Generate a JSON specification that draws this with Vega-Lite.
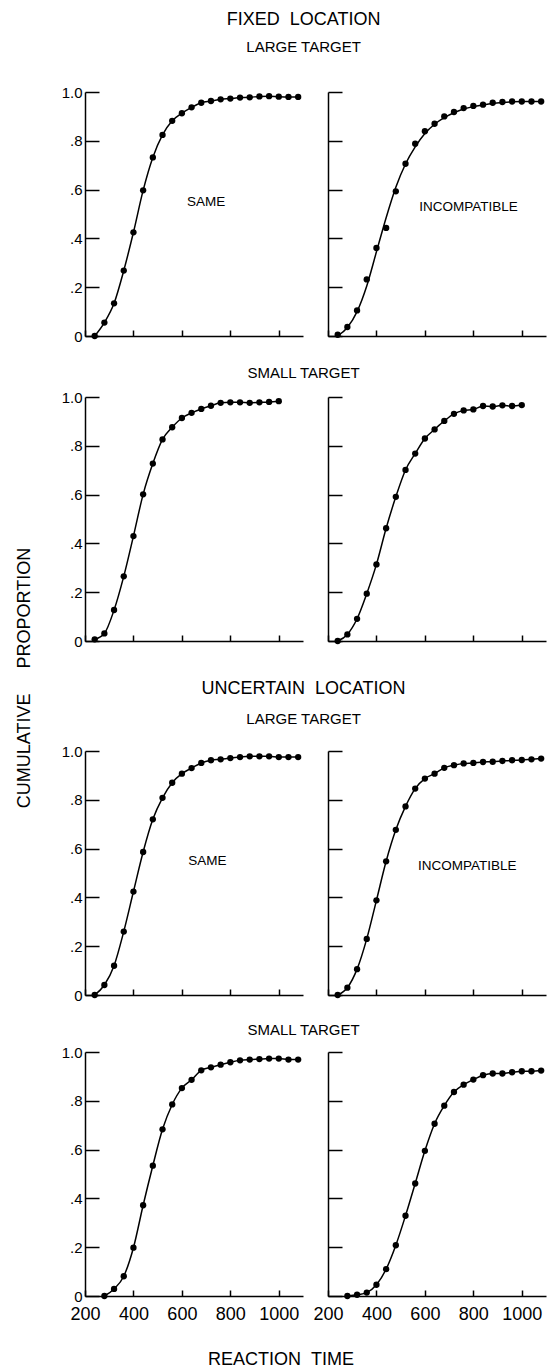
{
  "$schema": "https://vega.github.io/schema/vega-lite/v6.json",
  "padding": {"left": 16, "top": 11, "right": 5, "bottom": 0},
  "background": "white",
  "datasets": {
    "cdf": [
      {"panel":"FLS","rt":240,"p":0.0,"f":0.0},{"panel":"FLS","rt":280,"p":0.055,"f":0.055},{"panel":"FLS","rt":320,"p":0.134,"f":0.134},{"panel":"FLS","rt":360,"p":0.268,"f":0.268},{"panel":"FLS","rt":400,"p":0.425,"f":0.425},{"panel":"FLS","rt":440,"p":0.597,"f":0.597},{"panel":"FLS","rt":480,"p":0.732,"f":0.732},{"panel":"FLS","rt":520,"p":0.824,"f":0.824},{"panel":"FLS","rt":560,"p":0.882,"f":0.882},{"panel":"FLS","rt":600,"p":0.913,"f":0.913},{"panel":"FLS","rt":640,"p":0.937,"f":0.937},{"panel":"FLS","rt":680,"p":0.956,"f":0.956},{"panel":"FLS","rt":720,"p":0.963,"f":0.963},{"panel":"FLS","rt":760,"p":0.97,"f":0.97},{"panel":"FLS","rt":800,"p":0.973,"f":0.973},{"panel":"FLS","rt":840,"p":0.977,"f":0.977},{"panel":"FLS","rt":880,"p":0.978,"f":0.978},{"panel":"FLS","rt":920,"p":0.982,"f":0.982},{"panel":"FLS","rt":960,"p":0.983,"f":0.983},{"panel":"FLS","rt":1000,"p":0.981,"f":0.981},{"panel":"FLS","rt":1040,"p":0.98,"f":0.98},{"panel":"FLS","rt":1080,"p":0.98,"f":0.98},

      {"panel":"FLI","rt":240,"p":0.005,"f":0.0},{"panel":"FLI","rt":280,"p":0.037,"f":0.035},{"panel":"FLI","rt":320,"p":0.105,"f":0.1},{"panel":"FLI","rt":360,"p":0.232,"f":0.205},{"panel":"FLI","rt":400,"p":0.361,"f":0.345},{"panel":"FLI","rt":440,"p":0.443,"f":0.485},{"panel":"FLI","rt":480,"p":0.593,"f":0.61},{"panel":"FLI","rt":520,"p":0.706,"f":0.705},{"panel":"FLI","rt":560,"p":0.788,"f":0.775},{"panel":"FLI","rt":600,"p":0.839,"f":0.83},{"panel":"FLI","rt":640,"p":0.87,"f":0.868},{"panel":"FLI","rt":680,"p":0.9,"f":0.895},{"panel":"FLI","rt":720,"p":0.918,"f":0.915},{"panel":"FLI","rt":760,"p":0.934,"f":0.93},{"panel":"FLI","rt":800,"p":0.943,"f":0.94},{"panel":"FLI","rt":840,"p":0.948,"f":0.947},{"panel":"FLI","rt":880,"p":0.956,"f":0.953},{"panel":"FLI","rt":920,"p":0.959,"f":0.957},{"panel":"FLI","rt":960,"p":0.961,"f":0.96},{"panel":"FLI","rt":1000,"p":0.961,"f":0.961},{"panel":"FLI","rt":1040,"p":0.961,"f":0.961},{"panel":"FLI","rt":1080,"p":0.961,"f":0.961},

      {"panel":"FSS","rt":240,"p":0.007,"f":0.007},{"panel":"FSS","rt":280,"p":0.031,"f":0.031},{"panel":"FSS","rt":320,"p":0.127,"f":0.127},{"panel":"FSS","rt":360,"p":0.265,"f":0.265},{"panel":"FSS","rt":400,"p":0.43,"f":0.43},{"panel":"FSS","rt":440,"p":0.601,"f":0.601},{"panel":"FSS","rt":480,"p":0.727,"f":0.727},{"panel":"FSS","rt":520,"p":0.826,"f":0.826},{"panel":"FSS","rt":560,"p":0.876,"f":0.876},{"panel":"FSS","rt":600,"p":0.914,"f":0.914},{"panel":"FSS","rt":640,"p":0.935,"f":0.935},{"panel":"FSS","rt":680,"p":0.951,"f":0.951},{"panel":"FSS","rt":720,"p":0.964,"f":0.964},{"panel":"FSS","rt":760,"p":0.976,"f":0.976},{"panel":"FSS","rt":800,"p":0.978,"f":0.978},{"panel":"FSS","rt":840,"p":0.978,"f":0.978},{"panel":"FSS","rt":880,"p":0.976,"f":0.976},{"panel":"FSS","rt":920,"p":0.978,"f":0.978},{"panel":"FSS","rt":960,"p":0.98,"f":0.98},{"panel":"FSS","rt":1000,"p":0.983,"f":0.983},

      {"panel":"FSI","rt":240,"p":0.0,"f":0.0},{"panel":"FSI","rt":280,"p":0.027,"f":0.027},{"panel":"FSI","rt":320,"p":0.091,"f":0.091},{"panel":"FSI","rt":360,"p":0.194,"f":0.194},{"panel":"FSI","rt":400,"p":0.314,"f":0.314},{"panel":"FSI","rt":440,"p":0.462,"f":0.462},{"panel":"FSI","rt":480,"p":0.591,"f":0.591},{"panel":"FSI","rt":520,"p":0.701,"f":0.701},{"panel":"FSI","rt":560,"p":0.768,"f":0.768},{"panel":"FSI","rt":600,"p":0.83,"f":0.83},{"panel":"FSI","rt":640,"p":0.867,"f":0.867},{"panel":"FSI","rt":680,"p":0.902,"f":0.902},{"panel":"FSI","rt":720,"p":0.931,"f":0.931},{"panel":"FSI","rt":760,"p":0.945,"f":0.945},{"panel":"FSI","rt":800,"p":0.949,"f":0.949},{"panel":"FSI","rt":840,"p":0.963,"f":0.963},{"panel":"FSI","rt":880,"p":0.961,"f":0.961},{"panel":"FSI","rt":920,"p":0.966,"f":0.966},{"panel":"FSI","rt":960,"p":0.963,"f":0.963},{"panel":"FSI","rt":1000,"p":0.967,"f":0.967},

      {"panel":"ULS","rt":240,"p":0.0,"f":0.0},{"panel":"ULS","rt":280,"p":0.041,"f":0.041},{"panel":"ULS","rt":320,"p":0.12,"f":0.12},{"panel":"ULS","rt":360,"p":0.26,"f":0.26},{"panel":"ULS","rt":400,"p":0.424,"f":0.424},{"panel":"ULS","rt":440,"p":0.586,"f":0.586},{"panel":"ULS","rt":480,"p":0.72,"f":0.72},{"panel":"ULS","rt":520,"p":0.808,"f":0.808},{"panel":"ULS","rt":560,"p":0.87,"f":0.87},{"panel":"ULS","rt":600,"p":0.907,"f":0.907},{"panel":"ULS","rt":640,"p":0.93,"f":0.93},{"panel":"ULS","rt":680,"p":0.951,"f":0.951},{"panel":"ULS","rt":720,"p":0.962,"f":0.962},{"panel":"ULS","rt":760,"p":0.966,"f":0.966},{"panel":"ULS","rt":800,"p":0.971,"f":0.971},{"panel":"ULS","rt":840,"p":0.975,"f":0.975},{"panel":"ULS","rt":880,"p":0.978,"f":0.978},{"panel":"ULS","rt":920,"p":0.978,"f":0.978},{"panel":"ULS","rt":960,"p":0.978,"f":0.978},{"panel":"ULS","rt":1000,"p":0.975,"f":0.975},{"panel":"ULS","rt":1040,"p":0.975,"f":0.975},{"panel":"ULS","rt":1080,"p":0.975,"f":0.975},

      {"panel":"ULI","rt":240,"p":0.0,"f":0.0},{"panel":"ULI","rt":280,"p":0.03,"f":0.03},{"panel":"ULI","rt":320,"p":0.106,"f":0.106},{"panel":"ULI","rt":360,"p":0.23,"f":0.23},{"panel":"ULI","rt":400,"p":0.388,"f":0.388},{"panel":"ULI","rt":440,"p":0.548,"f":0.548},{"panel":"ULI","rt":480,"p":0.677,"f":0.677},{"panel":"ULI","rt":520,"p":0.773,"f":0.773},{"panel":"ULI","rt":560,"p":0.846,"f":0.846},{"panel":"ULI","rt":600,"p":0.887,"f":0.887},{"panel":"ULI","rt":640,"p":0.907,"f":0.907},{"panel":"ULI","rt":680,"p":0.931,"f":0.931},{"panel":"ULI","rt":720,"p":0.942,"f":0.942},{"panel":"ULI","rt":760,"p":0.949,"f":0.949},{"panel":"ULI","rt":800,"p":0.951,"f":0.951},{"panel":"ULI","rt":840,"p":0.955,"f":0.955},{"panel":"ULI","rt":880,"p":0.956,"f":0.956},{"panel":"ULI","rt":920,"p":0.959,"f":0.959},{"panel":"ULI","rt":960,"p":0.962,"f":0.962},{"panel":"ULI","rt":1000,"p":0.963,"f":0.963},{"panel":"ULI","rt":1040,"p":0.966,"f":0.966},{"panel":"ULI","rt":1080,"p":0.969,"f":0.969},

      {"panel":"USS","rt":280,"p":0.0,"f":0.0},{"panel":"USS","rt":320,"p":0.029,"f":0.029},{"panel":"USS","rt":360,"p":0.081,"f":0.081},{"panel":"USS","rt":400,"p":0.198,"f":0.198},{"panel":"USS","rt":440,"p":0.372,"f":0.372},{"panel":"USS","rt":480,"p":0.534,"f":0.534},{"panel":"USS","rt":520,"p":0.683,"f":0.683},{"panel":"USS","rt":560,"p":0.785,"f":0.785},{"panel":"USS","rt":600,"p":0.852,"f":0.852},{"panel":"USS","rt":640,"p":0.886,"f":0.886},{"panel":"USS","rt":680,"p":0.925,"f":0.925},{"panel":"USS","rt":720,"p":0.937,"f":0.937},{"panel":"USS","rt":760,"p":0.948,"f":0.948},{"panel":"USS","rt":800,"p":0.958,"f":0.958},{"panel":"USS","rt":840,"p":0.966,"f":0.966},{"panel":"USS","rt":880,"p":0.969,"f":0.969},{"panel":"USS","rt":920,"p":0.971,"f":0.971},{"panel":"USS","rt":960,"p":0.973,"f":0.973},{"panel":"USS","rt":1000,"p":0.973,"f":0.973},{"panel":"USS","rt":1040,"p":0.969,"f":0.969},{"panel":"USS","rt":1080,"p":0.969,"f":0.969},

      {"panel":"USI","rt":280,"p":0.0,"f":0.0},{"panel":"USI","rt":320,"p":0.005,"f":0.005},{"panel":"USI","rt":360,"p":0.014,"f":0.014},{"panel":"USI","rt":400,"p":0.046,"f":0.046},{"panel":"USI","rt":440,"p":0.11,"f":0.11},{"panel":"USI","rt":480,"p":0.208,"f":0.208},{"panel":"USI","rt":520,"p":0.329,"f":0.329},{"panel":"USI","rt":560,"p":0.461,"f":0.461},{"panel":"USI","rt":600,"p":0.595,"f":0.595},{"panel":"USI","rt":640,"p":0.706,"f":0.706},{"panel":"USI","rt":680,"p":0.78,"f":0.78},{"panel":"USI","rt":720,"p":0.836,"f":0.836},{"panel":"USI","rt":760,"p":0.866,"f":0.866},{"panel":"USI","rt":800,"p":0.887,"f":0.887},{"panel":"USI","rt":840,"p":0.905,"f":0.905},{"panel":"USI","rt":880,"p":0.912,"f":0.912},{"panel":"USI","rt":920,"p":0.912,"f":0.912},{"panel":"USI","rt":960,"p":0.917,"f":0.917},{"panel":"USI","rt":1000,"p":0.921,"f":0.921},{"panel":"USI","rt":1040,"p":0.921,"f":0.921},{"panel":"USI","rt":1080,"p":0.924,"f":0.924}
    ],
    "notes": [
      {"panel":"FLS","rt":700,"p":0.55,"label":"SAME"},
      {"panel":"FLI","rt":780,"p":0.53,"label":"INCOMPATIBLE"},
      {"panel":"ULS","rt":705,"p":0.55,"label":"SAME"},
      {"panel":"ULI","rt":775,"p":0.53,"label":"INCOMPATIBLE"}
    ]
  },
  "title": {"text": "REACTION\u00a0\u00a0TIME", "orient": "bottom", "fontSize": 18, "offset": 28},
  "vconcat": [
    {
      "title": {"text": "CUMULATIVE\u00a0\u00a0\u00a0\u00a0\u00a0PROPORTION", "orient": "left", "fontSize": 18, "offset": 27, "dx": -11},
      "spacing": 31,
      "vconcat": [
        {
          "spacing": 22,
          "vconcat": [
            {
              "title": {"text": "FIXED\u00a0\u00a0LOCATION", "subtitle": "LARGE TARGET", "fontSize": 18, "subtitleFontSize": 15, "subtitlePadding": 11, "offset": 30},
              "spacing": 25, "bounds": "flush",
              "hconcat": [
                {
                  "width": 218, "height": 244,
                  "layer": [
                    {"data": {"name": "cdf"}, "transform": [{"filter": "datum.panel === 'FLS'"}],
                     "mark": {"type": "line", "interpolate": "monotone", "color": "black", "strokeWidth": 1.5},
                     "encoding": {
                       "x": {"field": "rt", "type": "quantitative", "scale": {"domain": [200, 1100], "nice": false, "zero": false}, "axis": {"values": [200, 400, 600, 800, 1000], "tickSize": -6, "labels": false, "title": null}},
                       "y": {"field": "f", "type": "quantitative", "scale": {"domain": [0, 1], "nice": false}, "axis": {"values": [0, 0.1, 0.2, 0.3, 0.4, 0.5, 0.6, 0.7, 0.8, 0.9, 1], "tickSize": {"condition": {"test": "abs(datum.value*5 - round(datum.value*5)) < 0.001", "value": -14}, "value": -10}, "labelExpr": "abs(datum.value*5 - round(datum.value*5)) < 0.001 ? (datum.value == 0 ? '0' : (datum.value == 1 ? '1.0' : '.' + format(datum.value*10, 'd'))) : ''", "labelFontSize": 15, "labelPadding": 17, "labelOverlap": false, "title": null}}
                     }},
                    {"data": {"name": "cdf"}, "transform": [{"filter": "datum.panel === 'FLS'"}],
                     "mark": {"type": "circle", "color": "black", "size": 40, "opacity": 1},
                     "encoding": {"x": {"field": "rt", "type": "quantitative"}, "y": {"field": "p", "type": "quantitative"}}},
                    {"data": {"name": "notes"}, "transform": [{"filter": "datum.panel === 'FLS'"}],
                     "mark": {"type": "text", "fontSize": 13.5, "color": "black", "align": "center", "baseline": "middle"},
                     "encoding": {"x": {"field": "rt", "type": "quantitative"}, "y": {"field": "p", "type": "quantitative"}, "text": {"field": "label"}}}
                  ]
                },
                {
                  "width": 218, "height": 244,
                  "layer": [
                    {"data": {"name": "cdf"}, "transform": [{"filter": "datum.panel === 'FLI'"}],
                     "mark": {"type": "line", "interpolate": "monotone", "color": "black", "strokeWidth": 1.5},
                     "encoding": {
                       "x": {"field": "rt", "type": "quantitative", "scale": {"domain": [200, 1100], "nice": false, "zero": false}, "axis": {"values": [200, 400, 600, 800, 1000], "tickSize": -6, "labels": false, "title": null}},
                       "y": {"field": "f", "type": "quantitative", "scale": {"domain": [0, 1], "nice": false}, "axis": {"values": [0, 0.1, 0.2, 0.3, 0.4, 0.5, 0.6, 0.7, 0.8, 0.9, 1], "tickSize": {"condition": {"test": "abs(datum.value*5 - round(datum.value*5)) < 0.001", "value": -14}, "value": -10}, "labels": false, "title": null}}
                     }},
                    {"data": {"name": "cdf"}, "transform": [{"filter": "datum.panel === 'FLI'"}],
                     "mark": {"type": "circle", "color": "black", "size": 40, "opacity": 1},
                     "encoding": {"x": {"field": "rt", "type": "quantitative"}, "y": {"field": "p", "type": "quantitative"}}},
                    {"data": {"name": "notes"}, "transform": [{"filter": "datum.panel === 'FLI'"}],
                     "mark": {"type": "text", "fontSize": 13.5, "color": "black", "align": "center", "baseline": "middle"},
                     "encoding": {"x": {"field": "rt", "type": "quantitative"}, "y": {"field": "p", "type": "quantitative"}, "text": {"field": "label"}}}
                  ]
                }
              ]
            },
            {
              "title": {"text": "SMALL TARGET", "fontSize": 15, "offset": 9},
              "spacing": 25, "bounds": "flush",
              "hconcat": [
                {
                  "width": 218, "height": 244,
                  "layer": [
                    {"data": {"name": "cdf"}, "transform": [{"filter": "datum.panel === 'FSS'"}],
                     "mark": {"type": "line", "interpolate": "monotone", "color": "black", "strokeWidth": 1.5},
                     "encoding": {
                       "x": {"field": "rt", "type": "quantitative", "scale": {"domain": [200, 1100], "nice": false, "zero": false}, "axis": {"values": [200, 400, 600, 800, 1000], "tickSize": -6, "labels": false, "title": null}},
                       "y": {"field": "f", "type": "quantitative", "scale": {"domain": [0, 1], "nice": false}, "axis": {"values": [0, 0.1, 0.2, 0.3, 0.4, 0.5, 0.6, 0.7, 0.8, 0.9, 1], "tickSize": {"condition": {"test": "abs(datum.value*5 - round(datum.value*5)) < 0.001", "value": -14}, "value": -10}, "labelExpr": "abs(datum.value*5 - round(datum.value*5)) < 0.001 ? (datum.value == 0 ? '0' : (datum.value == 1 ? '1.0' : '.' + format(datum.value*10, 'd'))) : ''", "labelFontSize": 15, "labelPadding": 17, "labelOverlap": false, "title": null}}
                     }},
                    {"data": {"name": "cdf"}, "transform": [{"filter": "datum.panel === 'FSS'"}],
                     "mark": {"type": "circle", "color": "black", "size": 40, "opacity": 1},
                     "encoding": {"x": {"field": "rt", "type": "quantitative"}, "y": {"field": "p", "type": "quantitative"}}}
                  ]
                },
                {
                  "width": 218, "height": 244,
                  "layer": [
                    {"data": {"name": "cdf"}, "transform": [{"filter": "datum.panel === 'FSI'"}],
                     "mark": {"type": "line", "interpolate": "monotone", "color": "black", "strokeWidth": 1.5},
                     "encoding": {
                       "x": {"field": "rt", "type": "quantitative", "scale": {"domain": [200, 1100], "nice": false, "zero": false}, "axis": {"values": [200, 400, 600, 800, 1000], "tickSize": -6, "labels": false, "title": null}},
                       "y": {"field": "f", "type": "quantitative", "scale": {"domain": [0, 1], "nice": false}, "axis": {"values": [0, 0.1, 0.2, 0.3, 0.4, 0.5, 0.6, 0.7, 0.8, 0.9, 1], "tickSize": {"condition": {"test": "abs(datum.value*5 - round(datum.value*5)) < 0.001", "value": -14}, "value": -10}, "labels": false, "title": null}}
                     }},
                    {"data": {"name": "cdf"}, "transform": [{"filter": "datum.panel === 'FSI'"}],
                     "mark": {"type": "circle", "color": "black", "size": 40, "opacity": 1},
                     "encoding": {"x": {"field": "rt", "type": "quantitative"}, "y": {"field": "p", "type": "quantitative"}}}
                  ]
                }
              ]
            }
          ]
        },
        {
          "spacing": 20,
          "vconcat": [
            {
              "title": {"text": "UNCERTAIN\u00a0\u00a0LOCATION", "subtitle": "LARGE TARGET", "fontSize": 18, "subtitleFontSize": 15, "subtitlePadding": 14, "offset": 17},
              "spacing": 25, "bounds": "flush",
              "hconcat": [
                {
                  "width": 218, "height": 244,
                  "layer": [
                    {"data": {"name": "cdf"}, "transform": [{"filter": "datum.panel === 'ULS'"}],
                     "mark": {"type": "line", "interpolate": "monotone", "color": "black", "strokeWidth": 1.5},
                     "encoding": {
                       "x": {"field": "rt", "type": "quantitative", "scale": {"domain": [200, 1100], "nice": false, "zero": false}, "axis": {"values": [200, 400, 600, 800, 1000], "tickSize": -6, "labels": false, "title": null}},
                       "y": {"field": "f", "type": "quantitative", "scale": {"domain": [0, 1], "nice": false}, "axis": {"values": [0, 0.1, 0.2, 0.3, 0.4, 0.5, 0.6, 0.7, 0.8, 0.9, 1], "tickSize": {"condition": {"test": "abs(datum.value*5 - round(datum.value*5)) < 0.001", "value": -14}, "value": -10}, "labelExpr": "abs(datum.value*5 - round(datum.value*5)) < 0.001 ? (datum.value == 0 ? '0' : (datum.value == 1 ? '1.0' : '.' + format(datum.value*10, 'd'))) : ''", "labelFontSize": 15, "labelPadding": 17, "labelOverlap": false, "title": null}}
                     }},
                    {"data": {"name": "cdf"}, "transform": [{"filter": "datum.panel === 'ULS'"}],
                     "mark": {"type": "circle", "color": "black", "size": 40, "opacity": 1},
                     "encoding": {"x": {"field": "rt", "type": "quantitative"}, "y": {"field": "p", "type": "quantitative"}}},
                    {"data": {"name": "notes"}, "transform": [{"filter": "datum.panel === 'ULS'"}],
                     "mark": {"type": "text", "fontSize": 13.5, "color": "black", "align": "center", "baseline": "middle"},
                     "encoding": {"x": {"field": "rt", "type": "quantitative"}, "y": {"field": "p", "type": "quantitative"}, "text": {"field": "label"}}}
                  ]
                },
                {
                  "width": 218, "height": 244,
                  "layer": [
                    {"data": {"name": "cdf"}, "transform": [{"filter": "datum.panel === 'ULI'"}],
                     "mark": {"type": "line", "interpolate": "monotone", "color": "black", "strokeWidth": 1.5},
                     "encoding": {
                       "x": {"field": "rt", "type": "quantitative", "scale": {"domain": [200, 1100], "nice": false, "zero": false}, "axis": {"values": [200, 400, 600, 800, 1000], "tickSize": -6, "labels": false, "title": null}},
                       "y": {"field": "f", "type": "quantitative", "scale": {"domain": [0, 1], "nice": false}, "axis": {"values": [0, 0.1, 0.2, 0.3, 0.4, 0.5, 0.6, 0.7, 0.8, 0.9, 1], "tickSize": {"condition": {"test": "abs(datum.value*5 - round(datum.value*5)) < 0.001", "value": -14}, "value": -10}, "labels": false, "title": null}}
                     }},
                    {"data": {"name": "cdf"}, "transform": [{"filter": "datum.panel === 'ULI'"}],
                     "mark": {"type": "circle", "color": "black", "size": 40, "opacity": 1},
                     "encoding": {"x": {"field": "rt", "type": "quantitative"}, "y": {"field": "p", "type": "quantitative"}}},
                    {"data": {"name": "notes"}, "transform": [{"filter": "datum.panel === 'ULI'"}],
                     "mark": {"type": "text", "fontSize": 13.5, "color": "black", "align": "center", "baseline": "middle"},
                     "encoding": {"x": {"field": "rt", "type": "quantitative"}, "y": {"field": "p", "type": "quantitative"}, "text": {"field": "label"}}}
                  ]
                }
              ]
            },
            {
              "title": {"text": "SMALL TARGET", "fontSize": 15, "offset": 7},
              "spacing": 25, "bounds": "flush",
              "hconcat": [
                {
                  "width": 218, "height": 244,
                  "layer": [
                    {"data": {"name": "cdf"}, "transform": [{"filter": "datum.panel === 'USS'"}],
                     "mark": {"type": "line", "interpolate": "monotone", "color": "black", "strokeWidth": 1.5},
                     "encoding": {
                       "x": {"field": "rt", "type": "quantitative", "scale": {"domain": [200, 1100], "nice": false, "zero": false}, "axis": {"values": [200, 400, 600, 800, 1000], "format": "d", "tickSize": -6, "labelFontSize": 18, "labelPadding": 15, "labelFlush": false, "labelOverlap": false, "title": null}},
                       "y": {"field": "f", "type": "quantitative", "scale": {"domain": [0, 1], "nice": false}, "axis": {"values": [0, 0.1, 0.2, 0.3, 0.4, 0.5, 0.6, 0.7, 0.8, 0.9, 1], "tickSize": {"condition": {"test": "abs(datum.value*5 - round(datum.value*5)) < 0.001", "value": -14}, "value": -10}, "labelExpr": "abs(datum.value*5 - round(datum.value*5)) < 0.001 ? (datum.value == 0 ? '0' : (datum.value == 1 ? '1.0' : '.' + format(datum.value*10, 'd'))) : ''", "labelFontSize": 15, "labelPadding": 17, "labelOverlap": false, "title": null}}
                     }},
                    {"data": {"name": "cdf"}, "transform": [{"filter": "datum.panel === 'USS'"}],
                     "mark": {"type": "circle", "color": "black", "size": 40, "opacity": 1},
                     "encoding": {"x": {"field": "rt", "type": "quantitative"}, "y": {"field": "p", "type": "quantitative"}}}
                  ]
                },
                {
                  "width": 218, "height": 244,
                  "layer": [
                    {"data": {"name": "cdf"}, "transform": [{"filter": "datum.panel === 'USI'"}],
                     "mark": {"type": "line", "interpolate": "monotone", "color": "black", "strokeWidth": 1.5},
                     "encoding": {
                       "x": {"field": "rt", "type": "quantitative", "scale": {"domain": [200, 1100], "nice": false, "zero": false}, "axis": {"values": [200, 400, 600, 800, 1000], "format": "d", "tickSize": -6, "labelFontSize": 18, "labelPadding": 15, "labelFlush": false, "labelOverlap": false, "title": null}},
                       "y": {"field": "f", "type": "quantitative", "scale": {"domain": [0, 1], "nice": false}, "axis": {"values": [0, 0.1, 0.2, 0.3, 0.4, 0.5, 0.6, 0.7, 0.8, 0.9, 1], "tickSize": {"condition": {"test": "abs(datum.value*5 - round(datum.value*5)) < 0.001", "value": -14}, "value": -10}, "labels": false, "title": null}}
                     }},
                    {"data": {"name": "cdf"}, "transform": [{"filter": "datum.panel === 'USI'"}],
                     "mark": {"type": "circle", "color": "black", "size": 40, "opacity": 1},
                     "encoding": {"x": {"field": "rt", "type": "quantitative"}, "y": {"field": "p", "type": "quantitative"}}}
                  ]
                }
              ]
            }
          ]
        }
      ]
    }
  ],
  "config": {
    "font": "Liberation Sans",
    "view": {"stroke": null},
    "axis": {"domainColor": "black", "domainWidth": 1.5, "tickColor": "black", "tickWidth": 1.5, "grid": false, "labelColor": "black", "labelFont": "Liberation Sans"},
    "title": {"color": "black", "subtitleColor": "black", "fontWeight": "normal", "font": "Liberation Sans", "subtitleFont": "Liberation Sans", "anchor": "middle"}
  }
}
